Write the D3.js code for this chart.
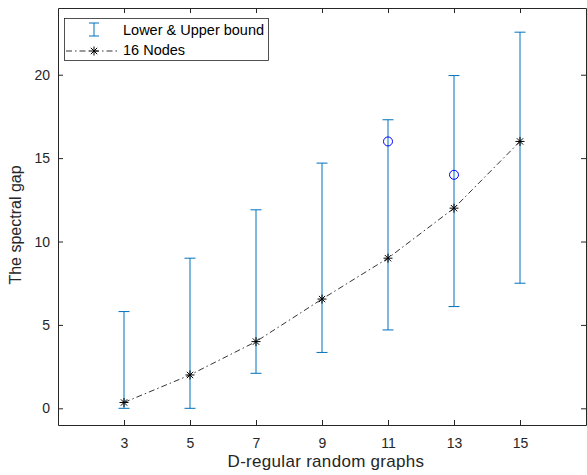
<html>
<head>
<script src="https://d3js.org/d3.v7.min.js"></script>
<style>
body { margin: 0; background: #fff; }
svg { font-family: "Liberation Sans", Arial, sans-serif; }
</style>
</head>
<body>
<svg id="chart" width="587" height="475"></svg>
<script>
// data
var degrees = [3, 5, 7, 9, 11, 13, 15];
var lowerBound = [0, 0, 2.1, 3.35, 4.7, 6.1, 7.5];
var upperBound = [5.8, 9, 11.9, 14.7, 17.3, 19.95, 22.55];
var nodes16 = [0.35, 2, 4, 6.55, 9, 12, 16];
var outlierX = [11, 13];
var outlierY = [16, 14];
var xTicks = [3, 5, 7, 9, 11, 13, 15];
var yTicks = [0, 5, 10, 15, 20];

var svg = d3.select("#chart");
var plotL = 58, plotR = 586, plotT = 8, plotB = 425;
var axisColor = "#262626";
var barColor = "#0072BD";

var x = d3.scaleLinear().domain([1, 17]).range([plotL, plotR]);
var y = d3.scaleLinear().domain([-1, 24]).range([plotB, plotT]);

// axes box with inward ticks (matlab style)
var bx = svg.append("g").attr("transform", "translate(0," + plotB + ")")
  .call(d3.axisBottom(x).tickValues(xTicks).tickSizeInner(-5).tickSizeOuter(0).tickPadding(13));
var tx = svg.append("g").attr("transform", "translate(0," + plotT + ")")
  .call(d3.axisTop(x).tickValues(xTicks).tickSizeInner(-5).tickSizeOuter(0).tickFormat(""));
var ly = svg.append("g").attr("transform", "translate(" + plotL + ",0)")
  .call(d3.axisLeft(y).tickValues(yTicks).tickSizeInner(-5).tickSizeOuter(0).tickPadding(8));
var ry = svg.append("g").attr("transform", "translate(" + plotR + ",0)")
  .call(d3.axisRight(y).tickValues(yTicks).tickSizeInner(-5).tickSizeOuter(0).tickFormat(""));

[bx, tx, ly, ry].forEach(function (g) {
  g.select(".domain").attr("stroke", axisColor);
  g.selectAll(".tick line").attr("stroke", axisColor);
  g.selectAll(".tick text").attr("fill", axisColor).style("font-size", "14px")
    .style("font-family", "'Liberation Sans', Arial, sans-serif");
});

// error bars
var bars = svg.append("g");
degrees.forEach(function (d, i) {
  bars.append("line").attr("x1", x(d)).attr("x2", x(d))
    .attr("y1", y(lowerBound[i])).attr("y2", y(upperBound[i]))
    .attr("stroke", barColor).attr("stroke-width", 1);
  [lowerBound[i], upperBound[i]].forEach(function (v) {
    bars.append("line").attr("x1", x(d) - 5.5).attr("x2", x(d) + 5.5)
      .attr("y1", y(v)).attr("y2", y(v))
      .attr("stroke", barColor).attr("stroke-width", 1);
  });
});

// 16 nodes line
var line = d3.line().x(function (d, i) { return x(degrees[i]); }).y(function (d) { return y(d); });
svg.append("path").datum(nodes16).attr("d", line)
  .attr("fill", "none").attr("stroke", "#000").attr("stroke-width", 0.8)
  .attr("stroke-dasharray", "6,3,1.5,3");

function star(g, cx, cy, r) {
  var s = g.append("g").attr("stroke", "#000").attr("stroke-width", 1);
  [0, 45, 90, 135].forEach(function (a) {
    var rad = a * Math.PI / 180;
    s.append("line").attr("x1", cx - r * Math.cos(rad)).attr("y1", cy - r * Math.sin(rad))
      .attr("x2", cx + r * Math.cos(rad)).attr("y2", cy + r * Math.sin(rad));
  });
}
nodes16.forEach(function (v, i) { star(svg, x(degrees[i]), y(v), 4.5); });

// outliers
svg.selectAll("circle.out").data(outlierX).enter().append("circle")
  .attr("class", "out")
  .attr("cx", function (d) { return x(d); })
  .attr("cy", function (d, i) { return y(outlierY[i]); })
  .attr("r", 4.5).attr("fill", "none").attr("stroke", "#0000FF").attr("stroke-width", 1);

// labels
svg.append("text").attr("x", 326).attr("y", 467)
  .attr("text-anchor", "middle").attr("fill", axisColor)
  .style("font-size", "17px").style("letter-spacing", "0.3px")
  .text("D-regular random graphs");
svg.append("text").attr("transform", "translate(21,225) rotate(-90)")
  .attr("text-anchor", "middle").attr("fill", axisColor).style("font-size", "16px")
  .text("The spectral gap");

// legend
var lg = svg.append("g");
lg.append("rect").attr("x", 64.5).attr("y", 18.5).attr("width", 204).attr("height", 42)
  .attr("fill", "#fff").attr("stroke", axisColor).attr("stroke-width", 0.8);
lg.append("line").attr("x1", 94).attr("x2", 94).attr("y1", 23).attr("y2", 36).attr("stroke", barColor);
lg.append("line").attr("x1", 89).attr("x2", 99).attr("y1", 23).attr("y2", 23).attr("stroke", barColor);
lg.append("line").attr("x1", 89).attr("x2", 99).attr("y1", 36).attr("y2", 36).attr("stroke", barColor);
lg.append("line").attr("x1", 66).attr("x2", 120).attr("y1", 51).attr("y2", 51)
  .attr("stroke", "#000").attr("stroke-width", 0.8).attr("stroke-dasharray", "6,3,1.5,3");
star(lg, 94, 51, 4.5);
lg.append("text").attr("x", 123).attr("y", 35).attr("fill", "#000").style("font-size", "14.5px").text("Lower & Upper bound");
lg.append("text").attr("x", 123).attr("y", 55).attr("fill", "#000").style("font-size", "14.5px").text("16 Nodes");
</script>
</body>
</html>
